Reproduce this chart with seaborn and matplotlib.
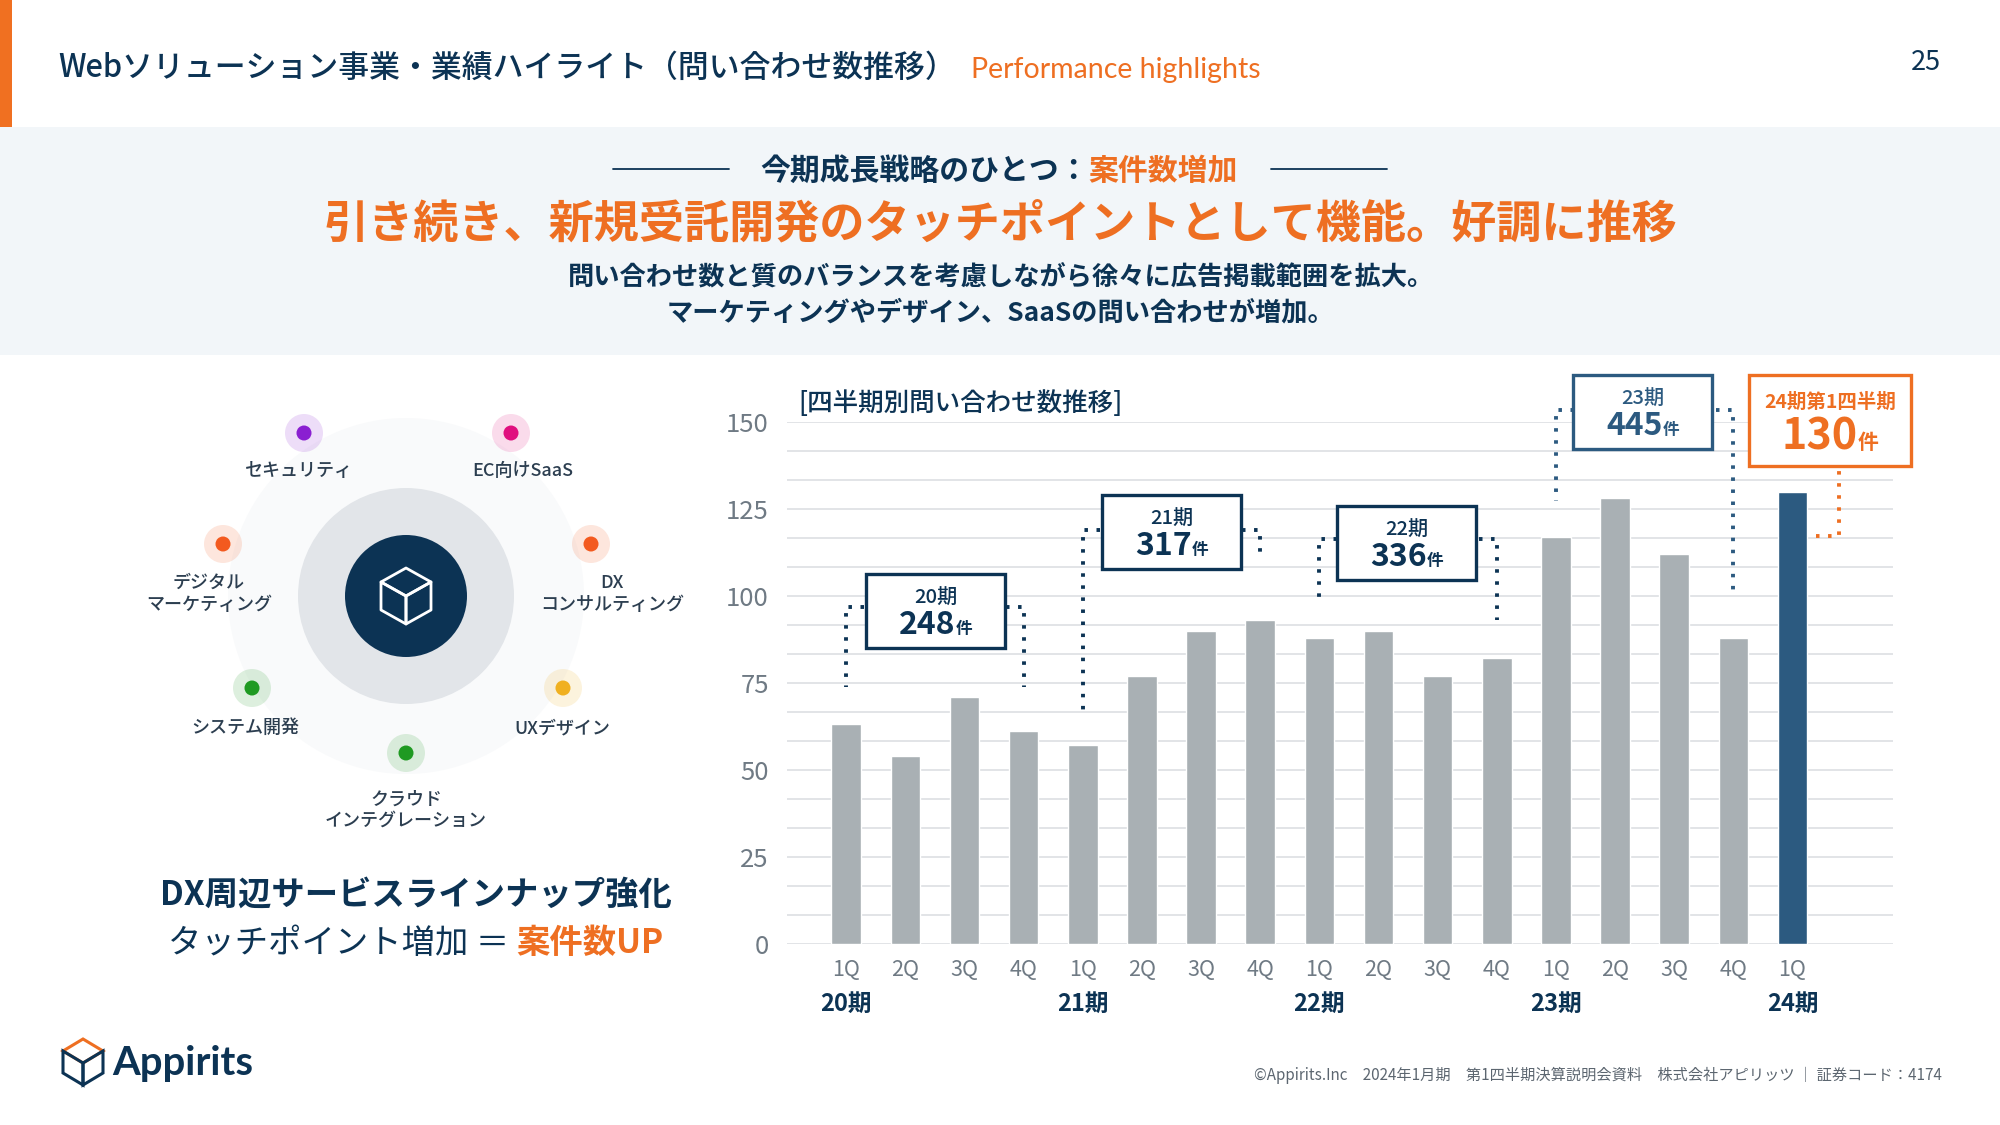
import pandas as pd
import seaborn as sns
import matplotlib.pyplot as plt
from matplotlib.patches import Circle, Polygon, Rectangle
from matplotlib.ticker import MultipleLocator

# chart data
quarters = ['1Q', '2Q', '3Q', '4Q', '1Q', '2Q', '3Q', '4Q', '1Q', '2Q', '3Q', '4Q',
            '1Q', '2Q', '3Q', '4Q', '1Q']
inquiries = [63, 54, 71, 61, 57, 77, 90, 93, 88, 90, 77, 82, 117, 128, 112, 88, 130]
period_names = ['20期', '21期', '22期', '23期', '24期']
period_starts = [0, 4, 8, 12, 16]
yearly_totals = ['248', '317', '336', '445']
y_ticks = [0, 25, 50, 75, 100, 125, 150]

# service ring around the cube
service_labels = ['セキュリティ', 'EC向けSaaS', 'デジタル\nマーケティング', 'DX\nコンサルティング',
                  'システム開発', 'UXデザイン', 'クラウド\nインテグレーション']
service_colors = ['#8a1fd1', '#e0107f', '#f35a1f', '#f35a1f', '#1f9a22', '#f0b020', '#1f9a22']

NAVY = '#0c3354'
BLUE = '#2c5a80'
ORANGE = '#ee6f22'
GREY_BAR = '#a9b0b4'
GREY_TEXT = '#6f7a84'
JP = ['Noto Sans CJK JP', 'DejaVu Sans']

sns.set_theme(style='white')
plt.rcParams['font.family'] = JP

fig = plt.figure(figsize=(20, 11.25), dpi=100, facecolor='white')

# --- bar chart ---
ax = fig.add_axes([787 / 2000, (1125 - 943.5) / 1125, (1893 - 787) / 2000, (943.5 - 422) / 1125])
ax.patch.set_alpha(0)
df = pd.DataFrame({
    'key': [f'{i}_{q}' for i, q in enumerate(quarters)],
    'count': inquiries,
    'latest': [i == len(quarters) - 1 for i in range(len(quarters))],
})
sns.barplot(data=df, x='key', y='count', hue='latest', palette={False: GREY_BAR, True: BLUE},
            dodge=False, width=0.5, saturation=1, legend=False, ax=ax)
ax.set_xlim(-1.0, 17.7)
ax.set_ylim(0, 150)
ax.set_xlabel('')
ax.set_ylabel('')
ax.set_xticks(range(len(quarters)))
ax.set_xticklabels(quarters)
ax.set_yticks(y_ticks)
ax.yaxis.set_minor_locator(MultipleLocator(25 / 3))
ax.grid(which='both', axis='y', color='#dfe2e5', lw=1.3)
ax.grid(False, axis='x')
ax.set_axisbelow(True)
sns.despine(ax=ax, left=True, bottom=True)
ax.tick_params(axis='both', which='both', length=0)
ax.tick_params(axis='x', labelsize=15.5, labelcolor=GREY_TEXT, pad=11)
ax.tick_params(axis='y', labelsize=18.5, labelcolor=GREY_TEXT, pad=13)

for name, start in zip(period_names, period_starts):
    ax.annotate(name, xy=(start, 0), xytext=(0, -43.5), textcoords='offset points',
                ha='center', va='center', fontsize=17, fontweight='bold', color=NAVY)

# dotted brackets linking each total box to its quarters
dots = dict(ls=(0, (0.9, 2.2)), lw=2.8, clip_on=False)
bracket_left = [0, 4, 8, 12]
bracket_right = [3, 7, 11, 15]
bracket_top = [96.8, 119, 116.3, 153.4]
bracket_left_end = [73.7, 66.6, 99.5, 127.3]
bracket_right_end = [73.7, 112.3, 93, 101]
for i in range(4):
    l, r, top = bracket_left[i], bracket_right[i], bracket_top[i]
    c = BLUE if i == 3 else NAVY
    ax.plot([l + 0.3, l, l], [top, top, bracket_left_end[i]], color=c, **dots)
    ax.plot([r - 0.3, r, r], [top, top, bracket_right_end[i]], color=c, **dots)
ax.plot([16.4, 16.78, 16.78], [117.3, 117.3, 137], color=ORANGE, **dots)

# --- everything else goes on an overlay measured in pixels ---
ov = fig.add_axes([0, 0, 1, 1], zorder=5)
ov.set_xlim(0, 2000)
ov.set_ylim(1125, 0)
ov.axis('off')
ov.patch.set_alpha(0)
renderer = fig.canvas.get_renderer()


def row(parts, cx, base):
    # one centred line made of differently styled pieces, sitting on a common baseline
    items = [ov.text(0, base, s, ha='left', va='baseline', fontsize=fs, fontweight=w, color=c)
             for s, fs, w, c in parts]
    widths = [t.get_window_extent(renderer).width for t in items]
    x = cx - sum(widths) / 2
    for t, w in zip(items, widths):
        t.set_x(x)
        x += w


# header
ov.add_patch(Rectangle((0, 127), 2000, 228, color='#f2f6f9', lw=0, zorder=0))
ov.add_patch(Rectangle((0, 0), 12, 127, color='#f07021', lw=0))
ov.text(58, 77, 'Webソリューション事業・業績ハイライト（問い合わせ数推移）', fontsize=22.2, color=NAVY,
        ha='left', va='baseline', fontweight='medium')
ov.text(971, 78, 'Performance highlights', fontsize=20.5, color=ORANGE, ha='left', va='baseline',
        family='Lato')
ov.text(1926, 62, '25', fontsize=19.5, color=NAVY, ha='center', va='center')

# message band
ov.plot([613, 729], [169, 169], color=NAVY, lw=1.3)
ov.plot([1271, 1387], [169, 169], color=NAVY, lw=1.3)
row([('今期成長戦略のひとつ：', 21.5, 'bold', NAVY), ('案件数増加', 21.5, 'bold', ORANGE)], 999, 180)
ov.text(1000, 225, '引き続き、新規受託開発のタッチポイントとして機能。好調に推移', fontsize=32.5,
        fontweight='bold', color=ORANGE, ha='center', va='center')
ov.text(1001, 277, '問い合わせ数と質のバランスを考慮しながら徐々に広告掲載範囲を拡大。', fontsize=18.9,
        fontweight='bold', color=NAVY, ha='center', va='center')
ov.text(1001, 313, 'マーケティングやデザイン、SaaSの問い合わせが増加。', fontsize=18.9,
        fontweight='bold', color=NAVY, ha='center', va='center')

# service ring
cx, cy = 406, 596
ov.add_patch(Circle((cx, cy), 178, color='#f9fafb', lw=0))
ov.add_patch(Circle((cx, cy), 108, color='#e2e5e9', lw=0))
ov.add_patch(Circle((cx, cy), 61, color=NAVY, lw=0))
cube = dict(fill=False, ec='white', lw=2, joinstyle='round')
ov.add_patch(Polygon([(cx, cy - 28), (cx + 25, cy - 14), (cx, cy), (cx - 25, cy - 14)], **cube))
ov.add_patch(Polygon([(cx - 25, cy - 14), (cx, cy), (cx, cy + 28), (cx - 25, cy + 14)], **cube))
ov.add_patch(Polygon([(cx + 25, cy - 14), (cx, cy), (cx, cy + 28), (cx + 25, cy + 14)], **cube))

dot_x = [304, 511, 223, 591, 252, 563, 406]
dot_y = [433, 433, 544, 544, 688, 688, 753]
label_x = [299, 523, 209, 612, 245, 562, 406]
label_y = [471, 471, 594, 594, 728, 728, 810]
for i, color in enumerate(service_colors):
    ov.add_patch(Circle((dot_x[i], dot_y[i]), 19, color=color, alpha=0.15, lw=0))
    ov.add_patch(Circle((dot_x[i], dot_y[i]), 7.5, color=color, lw=0))
    ov.text(label_x[i], label_y[i], service_labels[i], fontsize=13, color='#2c3e50', ha='center',
            va='center', linespacing=1.25, fontweight='medium')

ov.text(416, 895, 'DX周辺サービスラインナップ強化', fontsize=24, fontweight='bold', color=NAVY,
        ha='center', va='center')
row([('タッチポイント増加 ＝ ', 24, 'normal', NAVY), ('案件数UP', 24, 'bold', ORANGE)], 416, 953)

# chart caption and total boxes
ov.text(798, 404, '[四半期別問い合わせ数推移]', fontsize=18.4, color=NAVY, ha='left', va='center',
        fontweight='medium')
box_x = [866, 1102, 1337, 1573]
box_y = [574, 495, 506, 375]
for i, total in enumerate(yearly_totals):
    c = BLUE if i == 3 else NAVY
    ov.add_patch(Rectangle((box_x[i], box_y[i]), 139, 74, fc='white', ec=c, lw=2.4))
    mid = box_x[i] + 69.5
    ov.text(mid, box_y[i] + 24, period_names[i], fontsize=14.5, fontweight='medium', color=c,
            ha='center', va='center')
    row([(total, 23, 'bold', c), ('件', 12, 'bold', c)], mid, box_y[i] + 60)

ov.add_patch(Rectangle((1749, 375), 162, 91, fc='white', ec=ORANGE, lw=2.4))
ov.text(1830, 402, '24期第1四半期', fontsize=14, fontweight='bold', color=ORANGE, ha='center',
        va='center')
row([('130', 31, 'bold', ORANGE), ('件', 15, 'bold', ORANGE)], 1830, 449)

# footer
ov.text(1942, 1075, '©Appirits.Inc　2024年1月期　第1四半期決算説明会資料　株式会社アピリッツ ｜ 証券コード：4174',
        fontsize=10.95, color='#5c6670', ha='right', va='center')
ov.text(112, 1063, 'Appirits', fontsize=28.8, fontweight='bold', color=NAVY, ha='left', va='center',
        family='Lato')
lx, ly = 83, 1062
ov.add_patch(Polygon([(lx, ly - 23), (lx + 20, ly - 11), (lx, ly + 1), (lx - 20, ly - 11)],
                     fill=False, ec=ORANGE, lw=2.2))
ov.add_patch(Polygon([(lx - 20, ly - 11), (lx, ly + 1), (lx, ly + 23), (lx - 20, ly + 11)],
                     fill=False, ec=NAVY, lw=2.2))
ov.add_patch(Polygon([(lx + 20, ly - 11), (lx, ly + 1), (lx, ly + 23), (lx + 20, ly + 11)],
                     fill=False, ec=NAVY, lw=2.2))

fig.savefig('out.png', dpi=100)
